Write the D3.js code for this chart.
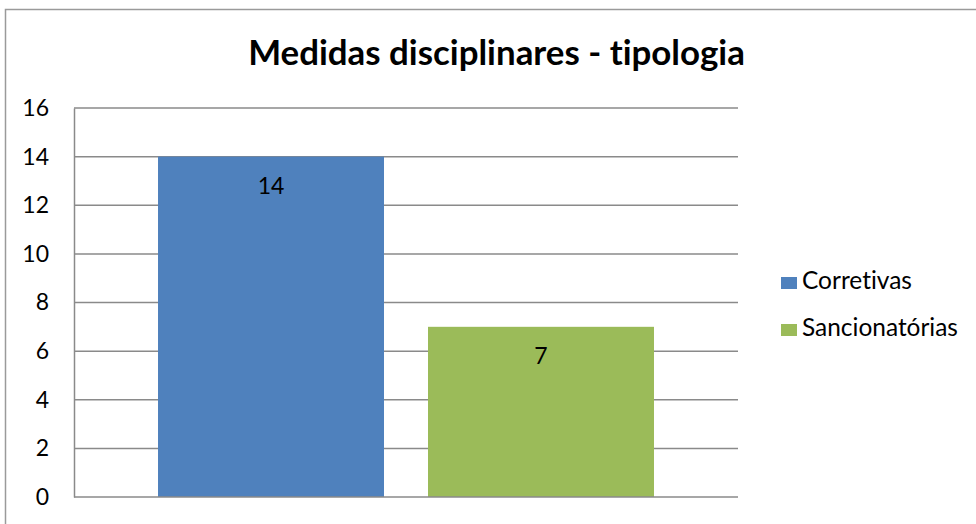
<!DOCTYPE html>
<html>
<head>
<meta charset="utf-8">
<script src="https://cdn.jsdelivr.net/npm/d3@7"></script>
<style>
  html, body { margin: 0; padding: 0; background: #ffffff; }
  svg { display: block; }
  text { font-family: Lato, "Open Sans", "Noto Sans", sans-serif; fill: #000; font-variant-ligatures: none; font-feature-settings: "liga" 0, "clig" 0; }
</style>
</head>
<body>
<svg id="chart" width="976" height="524"></svg>
<script>
// ---- data ----
const title = "Medidas disciplinares - tipologia";
const categories = [""];
const seriesNames = ["Corretivas", "Sancionatórias"];
const seriesValues = [14, 7];
const seriesColors = ["#4F81BD", "#9BBB59"];
const yTicks = [0, 2, 4, 6, 8, 10, 12, 14, 16];

const svg = d3.select("#chart");
const W = 976, H = 524;
svg.append("rect").attr("width", W).attr("height", H).attr("fill", "#fff");

// outer chart frame (extends beyond the canvas on right and bottom)
svg.append("rect")
  .attr("x", 5.5).attr("y", 9.5).attr("width", 1000).attr("height", 600)
  .attr("fill", "none").attr("stroke", "#9a9a9a").attr("stroke-width", 1.5);

const plot = { left: 74, right: 738, top: 108, bottom: 497 };

const y = d3.scaleLinear().domain([0, 16]).range([plot.bottom, plot.top]);
const x0 = d3.scaleBand().domain(categories).range([plot.left, plot.right])
  .paddingInner(0).paddingOuter(0.1694);
const x1 = d3.scaleBand().domain(seriesNames).range([0, x0.bandwidth()])
  .paddingInner(0.163).paddingOuter(0);

// gridlines
svg.append("g").selectAll("line").data(yTicks.filter(d => d > 0)).join("line")
  .attr("x1", plot.left).attr("x2", plot.right)
  .attr("y1", d => y(d)).attr("y2", d => y(d))
  .attr("stroke", "#8a8a8a").attr("stroke-width", 1.5);

// y axis (left border line + labels)
const yAxis = d3.axisLeft(y).tickValues(yTicks).tickSize(0).tickPadding(25).tickFormat(d3.format("d"));
const yg = svg.append("g").attr("transform", `translate(${plot.left},0)`).call(yAxis);
yg.select(".domain").attr("stroke", "#8a8a8a").attr("stroke-width", 1.5);
yg.selectAll("text").style("font-size", "23px").attr("font-family", "Lato, 'Open Sans', sans-serif").attr("fill", "#000");

// bars
const bars = seriesNames.map((s, i) => ({ series: s, value: seriesValues[i], color: seriesColors[i], cat: categories[0] }));
svg.append("g").selectAll("rect").data(bars).join("rect")
  .attr("x", d => x0(d.cat) + x1(d.series))
  .attr("width", x1.bandwidth())
  .attr("y", d => y(d.value))
  .attr("height", d => y(0) - y(d.value))
  .attr("fill", d => d.color);

// x axis baseline
svg.append("line")
  .attr("x1", plot.left).attr("x2", plot.right)
  .attr("y1", y(0)).attr("y2", y(0))
  .attr("stroke", "#8a8a8a").attr("stroke-width", 1.5);

// data labels
svg.append("g").selectAll("text").data(bars).join("text")
  .attr("x", d => x0(d.cat) + x1(d.series) + x1.bandwidth() / 2)
  .attr("y", d => y(d.value) + 37)
  .attr("text-anchor", "middle")
  .style("font-size", "23px")
  .text(d => d3.format("d")(d.value));

// title, fitted to its width in the reference
function fit(sel, targetW, start) {
  let fs = start;
  sel.style("font-size", fs + "px");
  const w = sel.node().getComputedTextLength();
  fs = fs * targetW / w;
  sel.style("font-size", fs + "px");
  return fs;
}
const t = svg.append("text").attr("x", 496.5).attr("y", 65).attr("text-anchor", "middle")
  .style("font-weight", "bold").text(title);
fit(t, 497, 34);

// legend
const legend = svg.append("g");
const legY = [289, 336];
seriesNames.forEach((s, i) => {
  legend.append("rect").attr("x", 781).attr("y", legY[i] - 12).attr("width", 16).attr("height", 12)
    .attr("fill", seriesColors[i]);
  const tx = legend.append("text").attr("x", 802).attr("y", legY[i]).text(s);
  fit(tx, i === 0 ? 110 : 156, 22);
});
</script>
</body>
</html>
